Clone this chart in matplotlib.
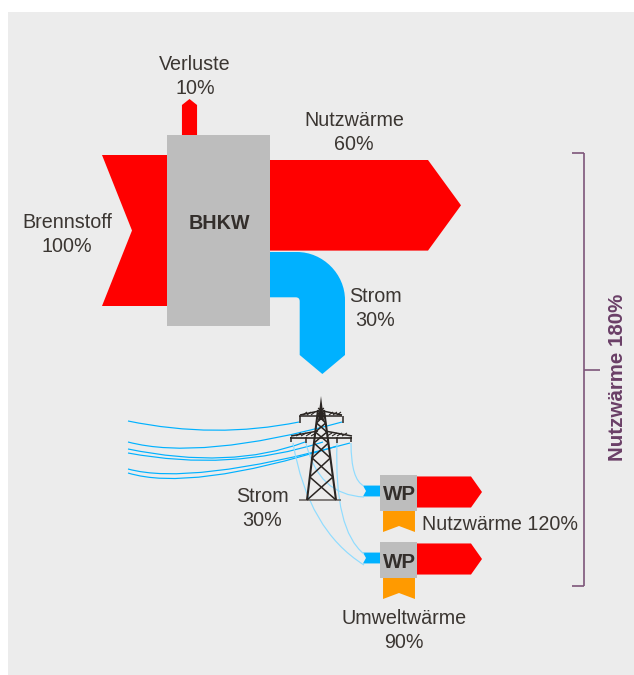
import numpy as np
import matplotlib
matplotlib.use("Agg")
import matplotlib.pyplot as plt
from matplotlib.patches import Polygon, Rectangle, PathPatch
from matplotlib.path import Path

plt.rcParams['font.family'] = ['Liberation Sans', 'DejaVu Sans']

# ---- data ----
flow_names = ["Brennstoff", "Verluste", "Nutzwärme", "Strom"]
flow_values = [100, 10, 60, 30]
wp_heat_total = 120
wp_env_total = 90
wp_elec_total = 30
total_heat = 180
unit_label = "BHKW"
wp_label = "WP"

RED = "#ff0000"; BLUE = "#00b1ff"; GREY = "#bdbdbd"; ORANGE = "#ff9a00"
PANEL = "#ececec"; TXT = "#3b3632"; PURPLE = "#7d5579"; PURPLE_T = "#6a3f67"; THIN = "#8fdcff"
SCALE = 1.51      # px per percent, upper Sankey
WP_SCALE = 0.518  # px per percent, lower Sankey

fig = plt.figure(figsize=(6.34, 6.75), dpi=100, facecolor="white")
ax = fig.add_axes([0, 0, 1, 1])
ax.set_xlim(0, 634); ax.set_ylim(675, 0); ax.axis("off")

def poly(pts, c, z=2):
    ax.add_patch(Polygon(pts, closed=True, fc=c, ec="none", zorder=z))

def label(x, y, s, size=14.2, **kw):
    kw.setdefault("color", TXT)
    ax.text(x, y, s, ha="center", va="center", fontsize=size, **kw)

ax.add_patch(Rectangle((8, 12), 626, 663, fc=PANEL, ec="none", zorder=0))

# BHKW block and main flows
bx0, bx1, by0, by1 = 167, 270, 135, 326
w_in = flow_values[0] * SCALE
w_loss = flow_values[1] * SCALE
w_heat = flow_values[2] * SCALE
w_el = flow_values[3] * SCALE

yc = 230.5
poly([(102, yc - w_in/2), (bx0 + 5, yc - w_in/2), (bx0 + 5, yc + w_in/2), (102, yc + w_in/2), (132, yc)], RED)

xc = 189.5
poly([(xc - w_loss/2, bx0 - 30), (xc - w_loss/2, 105), (xc, 99), (xc + w_loss/2, 105), (xc + w_loss/2, bx0 - 30)], RED)

top = 160
poly([(bx1 - 2, top), (428, top), (461, top + w_heat/2), (428, top + w_heat), (bx1 - 2, top + w_heat)], RED)

# Strom bend
t0 = 252; xr = 345; xl = xr - w_el; yb = t0 + w_el
verts = [(bx1 - 2, t0), (297, t0), (297 + 26, t0), (xr, t0 + 22), (xr, 300),
         (xr, 355), (xl + w_el/2, 374), (xl, 355), (xl, yb + 4), (xl, yb), (xl - 4, yb),
         (bx1 - 2, yb), (bx1 - 2, t0)]
codes = [Path.MOVETO, Path.LINETO, Path.CURVE4, Path.CURVE4, Path.CURVE4,
         Path.LINETO, Path.LINETO, Path.LINETO, Path.LINETO, Path.CURVE3, Path.CURVE3,
         Path.LINETO, Path.CLOSEPOLY]
ax.add_patch(PathPatch(Path(verts, codes), fc=BLUE, ec="none", zorder=2))

ax.add_patch(Rectangle((bx0, by0), bx1 - bx0, by1 - by0, fc=GREY, ec="none", zorder=3))
ax.text(219, 223.5, unit_label, ha="center", va="center", fontsize=14.2, fontweight="bold", color="#332e2b", zorder=4)

# Heat pumps
def heat_pump(y0):
    h_w = (wp_heat_total / 2) * WP_SCALE
    e_w = (wp_elec_total / 2) * WP_SCALE * 1.4
    o_w = (wp_env_total / 2) * WP_SCALE * 1.37
    ymid = y0 + 17
    poly([(415, ymid - h_w/2), (471, ymid - h_w/2), (482, ymid), (471, ymid + h_w/2), (415, ymid + h_w/2)], RED)
    poly([(363, ymid - e_w/2 - 1), (382, ymid - e_w/2 - 1), (382, ymid + e_w/2 - 1), (363, ymid + e_w/2 - 1), (366, ymid - 1)], BLUE)
    cx = 399
    poly([(cx - o_w/2, y0 + 34), (cx + o_w/2, y0 + 34), (cx + o_w/2, y0 + 57), (cx, y0 + 51), (cx - o_w/2, y0 + 57)], ORANGE)
    ax.add_patch(Rectangle((380, y0), 37, 36, fc=GREY, ec="none", zorder=3))
    ax.text(399.5, y0 + 20, wp_label, ha="center", va="center", fontsize=14.8, fontweight="bold", color="#332e2b", zorder=4)

heat_pump(475)
heat_pump(542)

# Cables (schematic)
cables = [
    [(128, 421), (215, 439), (299, 422)],
    [(128, 442), (200, 461), (342, 422)],
    [(128, 449), (230, 470), (305, 442)],
    [(128, 453), (230, 472), (323, 442)],
    [(128, 469), (190, 486), (350, 443)],
    [(128, 473), (190, 492), (337, 446)],
]
for (p0, p1, p2) in cables:
    ax.add_patch(PathPatch(Path([p0, p1, p2], [Path.MOVETO, Path.CURVE3, Path.CURVE3]),
                           fc="none", ec=BLUE, lw=0.85, zorder=2))
drops = [
    [(351, 443), (351, 480), (364, 486)],
    [(306, 443), (318, 495), (364, 497)],
    [(293, 443), (308, 530), (364, 565)],
    [(337, 443), (334, 530), (364, 554)],
]
for (p0, p1, p2) in drops:
    ax.add_patch(PathPatch(Path([p0, p1, p2], [Path.MOVETO, Path.CURVE3, Path.CURVE3]),
                           fc="none", ec=THIN, lw=0.85, zorder=2))

# Tower
K = "#2a2522"
def seg(x0, y0, x1, y1, lw=1.1, c=K):
    ax.plot([x0, x1], [y0, y1], color=c, lw=lw, solid_capstyle="butt", zorder=5)

seg(299, 500, 341, 500, 1.3, "#777370")
# legs
seg(307, 500, 318, 410, 1.5); seg(336, 500, 324, 410, 1.5)
# lacing
lv = [500, 477, 458, 443, 432, 423, 415, 408]
def lx(y):
    return 307 + (500 - y) * 11 / 90, 336 - (500 - y) * 12 / 90
for a, b in zip(lv[:-1], lv[1:]):
    la, ra = lx(a); lb, rb = lx(b)
    seg(la, a, rb, b, 1.1); seg(ra, a, lb, b, 1.1)
# spire
poly([(318, 420), (321, 396), (324, 420)], K, 5)
# upper arm
seg(299, 416, 342, 416, 1.1)
seg(300, 416, 300, 423, 1.1); seg(343, 416, 343, 423, 1.1)
seg(300, 415, 319, 411, 1.1); seg(342, 415, 323, 411, 1.1)
for x0, x1 in [(303, 307), (307, 311), (311, 315), (329, 333), (333, 337), (337, 341)]:
    seg(x0, 415, x1, 412, 0.8)
# lower arm
seg(290, 437.5, 352, 437.5, 1.2)
seg(291, 437, 291, 442, 1.1); seg(306, 437, 306, 443, 1.1)
seg(337, 437, 337, 443, 1.1); seg(351, 437, 351, 442, 1.1)
seg(291, 436, 318, 431, 1.1); seg(352, 436, 325, 431, 1.1)
for x0, x1 in [(296, 301), (301, 306), (306, 311), (311, 316), (327, 332), (332, 337), (337, 342), (342, 347)]:
    seg(x0, 436, x1, 433, 0.8)

# Bracket
seg(584, 153, 584, 586, 1.2, PURPLE)
seg(572, 153, 584, 153, 1.2, PURPLE)
seg(572, 586, 584, 586, 1.2, PURPLE)
seg(584, 370, 600, 370, 1.2, PURPLE)
ax.text(617.5, 377, f"Nutzwärme {total_heat}%", rotation=90, ha="center", va="center",
        fontsize=14.8, fontweight="bold", color=PURPLE_T)

# Labels
label(67, 223, flow_names[0])
label(67, 247, f"{flow_values[0]}%")
label(195, 64, flow_names[1])
label(195, 88, f"{flow_values[1]}%")
label(354, 120, flow_names[2])
label(354, 144, f"{flow_values[2]}%")
label(375.5, 296, flow_names[3])
label(375.5, 320, f"{flow_values[3]}%")
label(262, 496, flow_names[3])
label(262, 520, f"{wp_elec_total}%")
label(500, 524, f"{flow_names[2]} {wp_heat_total}%")
label(404, 618, "Umweltwärme")
label(404, 642, f"{wp_env_total}%")

fig.savefig("out.png", dpi=100, facecolor="white")
